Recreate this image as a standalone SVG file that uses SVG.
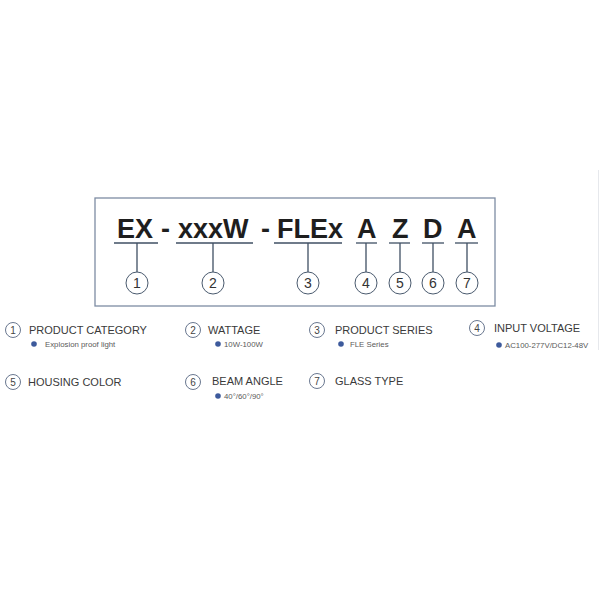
<svg xmlns="http://www.w3.org/2000/svg" width="600" height="600" viewBox="0 0 600 600">
<style>
.code{font-family:"Liberation Sans",Arial,sans-serif;font-weight:bold;font-size:27px;fill:#1e1e1e}
.ul{stroke:#3f4f63;stroke-width:1.3;fill:none}
.num{font-family:"Liberation Sans",Arial,sans-serif;font-size:14px;fill:#333;text-anchor:middle}
.circ{fill:#fff;stroke:#4a5a6e;stroke-width:1}
.lcirc{fill:#fff;stroke:#6a7890;stroke-width:1}
.lnum{font-family:"Liberation Sans",Arial,sans-serif;font-size:10px;fill:#444;text-anchor:middle}
.lab{font-family:"Liberation Sans",Arial,sans-serif;font-size:11px;fill:#3a3a3a}
.sub{font-family:"Liberation Sans",Arial,sans-serif;font-size:7.8px;fill:#5a5a5a}
.dot{fill:#3d5a9c}
</style>
<rect width="600" height="600" fill="#fff"/>
<line x1="598.5" y1="170" x2="598.5" y2="350" stroke="#e6e8ec" stroke-width="1"/>
<g id="code-box">
<rect x="95" y="198" width="400" height="108" fill="#fff" stroke="#7d8ca3" stroke-width="1.3"/>
<text class="code" x="117" y="237.5">EX</text>
<text class="code" x="165.5" y="237.5" text-anchor="middle">-</text>
<text class="code" x="178" y="237.5">xxxW</text>
<text class="code" x="265.5" y="237.5" text-anchor="middle">-</text>
<text class="code" x="277" y="237.5">FLEx</text>
<text class="code" x="357" y="237.5">A</text>
<text class="code" x="392" y="237.5">Z</text>
<text class="code" x="423" y="237.5">D</text>
<text class="code" x="457" y="237.5">A</text>
</g>
<g id="connectors">
<line class="ul" x1="114" y1="243" x2="158" y2="243"/>
<line class="ul" x1="176" y1="243" x2="253" y2="243"/>
<line class="ul" x1="274" y1="243" x2="342" y2="243"/>
<line class="ul" x1="356" y1="243" x2="377" y2="243"/>
<line class="ul" x1="389" y1="243" x2="410" y2="243"/>
<line class="ul" x1="422" y1="243" x2="444" y2="243"/>
<line class="ul" x1="455" y1="243" x2="478" y2="243"/>
<line class="ul" x1="137" y1="243" x2="137" y2="272"/>
<line class="ul" x1="213" y1="243" x2="213" y2="272"/>
<line class="ul" x1="308" y1="243" x2="308" y2="272"/>
<line class="ul" x1="366" y1="243" x2="366" y2="272"/>
<line class="ul" x1="400" y1="243" x2="400" y2="272"/>
<line class="ul" x1="433" y1="243" x2="433" y2="272"/>
<line class="ul" x1="467" y1="243" x2="467" y2="272"/>
</g>
<g id="n1"><circle class="circ" cx="137" cy="283" r="11"/><text class="num" x="137" y="288">1</text></g>
<g id="n2"><circle class="circ" cx="213" cy="283" r="11"/><text class="num" x="213" y="288">2</text></g>
<g id="n3"><circle class="circ" cx="308" cy="283" r="11"/><text class="num" x="308" y="288">3</text></g>
<g id="n4"><circle class="circ" cx="366" cy="283" r="11"/><text class="num" x="366" y="288">4</text></g>
<g id="n5"><circle class="circ" cx="400" cy="283" r="11"/><text class="num" x="400" y="288">5</text></g>
<g id="n6"><circle class="circ" cx="433" cy="283" r="11"/><text class="num" x="433" y="288">6</text></g>
<g id="n7"><circle class="circ" cx="467" cy="283" r="11"/><text class="num" x="467" y="288">7</text></g>
<g id="legend1">
<circle class="lcirc" cx="13" cy="330" r="7.5"/><text class="lnum" x="13" y="333.5">1</text>
<text class="lab" x="29" y="334">PRODUCT CATEGORY</text>
<circle class="dot" cx="34" cy="344" r="2.8"/>
<text class="sub" x="45" y="347">Explosion proof light</text>
</g>
<g id="legend2">
<circle class="lcirc" cx="193" cy="330" r="7.5"/><text class="lnum" x="193" y="333.5">2</text>
<text class="lab" x="208" y="334">WATTAGE</text>
<circle class="dot" cx="218" cy="344" r="2.8"/>
<text class="sub" x="224" y="347">10W-100W</text>
</g>
<g id="legend3">
<circle class="lcirc" cx="317" cy="330" r="7.5"/><text class="lnum" x="317" y="333.5">3</text>
<text class="lab" x="335" y="334">PRODUCT SERIES</text>
<circle class="dot" cx="341" cy="344" r="2.8"/>
<text class="sub" x="350" y="347">FLE Series</text>
</g>
<g id="legend4">
<circle class="lcirc" cx="477" cy="328" r="7.5"/><text class="lnum" x="477" y="331.5">4</text>
<text class="lab" x="494" y="332">INPUT VOLTAGE</text>
<circle class="dot" cx="499" cy="345" r="2.8"/>
<text class="sub" x="505" y="348">AC100-277V/DC12-48V</text>
</g>
<g id="legend5">
<circle class="lcirc" cx="13" cy="382" r="7.5"/><text class="lnum" x="13" y="385.5">5</text>
<text class="lab" x="28" y="386">HOUSING COLOR</text>
</g>
<g id="legend6">
<circle class="lcirc" cx="193" cy="382" r="7.5"/><text class="lnum" x="193" y="385.5">6</text>
<text class="lab" x="212" y="385">BEAM ANGLE</text>
<circle class="dot" cx="218" cy="396" r="2.8"/>
<text class="sub" x="224" y="399">40°/60°/90°</text>
</g>
<g id="legend7">
<circle class="lcirc" cx="317" cy="381" r="7.5"/><text class="lnum" x="317" y="384.5">7</text>
<text class="lab" x="335" y="385">GLASS TYPE</text>
</g>
</svg>
